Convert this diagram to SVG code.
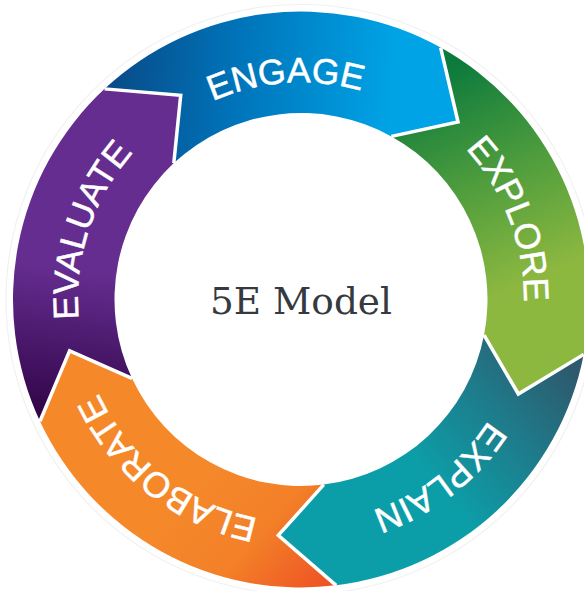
<svg xmlns="http://www.w3.org/2000/svg" width="584" height="591" viewBox="0 0 584 591">
  <style>
    .lbl { font-family: "Liberation Sans", Arial, sans-serif; font-size: 35.5px; fill: #ffffff; stroke: #ffffff; stroke-width: 0.5; }
    .sep { fill: none; stroke: #ffffff; stroke-width: 3.5; stroke-linejoin: miter; }
    .title { font-family: "DejaVu Serif", "Liberation Serif", serif; font-size: 37px; fill: #353a40; }
  </style>
  <defs>
    <linearGradient id="gEngage" gradientUnits="userSpaceOnUse" x1="110" y1="90" x2="390" y2="110">
      <stop offset="0" stop-color="#084b88"/>
      <stop offset="0.45" stop-color="#0074ba"/>
      <stop offset="1" stop-color="#00a3e5"/>
    </linearGradient>
    <linearGradient id="gExplore" gradientUnits="userSpaceOnUse" x1="440" y1="70" x2="535" y2="280">
      <stop offset="0" stop-color="#0b7a3c"/>
      <stop offset="0.5" stop-color="#4d9c3d"/>
      <stop offset="1" stop-color="#8db840"/>
    </linearGradient>
    <linearGradient id="gExplain" gradientUnits="userSpaceOnUse" x1="575" y1="375" x2="440" y2="490">
      <stop offset="0" stop-color="#2d5a6d"/>
      <stop offset="0.5" stop-color="#1d7d8c"/>
      <stop offset="1" stop-color="#0c9ea8"/>
    </linearGradient>
    <linearGradient id="gElaborate" gradientUnits="userSpaceOnUse" x1="200" y1="470" x2="330" y2="585">
      <stop offset="0" stop-color="#f5892a"/>
      <stop offset="0.5" stop-color="#f38028"/>
      <stop offset="1" stop-color="#ee5224"/>
    </linearGradient>
    <linearGradient id="gEvaluate" gradientUnits="userSpaceOnUse" x1="80" y1="270" x2="60" y2="425">
      <stop offset="0" stop-color="#652d90"/>
      <stop offset="1" stop-color="#2e0344"/>
    </linearGradient>
    <path id="ringA" d="M 88.74 344.62 A 217 217 0 0 1 513.26 254.38 A 217 217 0 0 1 88.74 344.62"/>
    <path id="ringB" d="M 82.87 345.86 A 223 223 0 0 1 519.13 253.14 A 223 223 0 0 1 82.87 345.86"/>
  </defs>

  <rect width="584" height="591" fill="#ffffff"/>
  <circle cx="301" cy="299.5" r="295" fill="none" stroke="#f1f1f1" stroke-width="1.2"/>

  <g id="node-engage">
    <path fill="url(#gEngage)" d="M 104.58 88.87 A 288 288 0 0 1 440.63 47.61 L 458.04 122.00 L 391.42 136.38 A 186.5 186.5 0 0 0 173.81 163.10 L 180.71 95.29 Z"/>
    <text class="lbl" text-anchor="middle"><textPath href="#ringA" startOffset="371.2">ENGAGE</textPath></text>
  </g>

  <g id="node-explore">
    <path fill="url(#gExplore)" d="M 440.63 47.61 A 288 288 0 0 1 583.71 354.45 L 518.34 394.00 L 484.07 335.09 A 186.5 186.5 0 0 0 391.42 136.38 L 458.04 122.00 Z"/>
    <text class="lbl" text-anchor="middle"><textPath href="#ringB" startOffset="665.5">EXPLORE</textPath></text>
  </g>

  <g id="node-explain">
    <path fill="url(#gExplain)" d="M 583.71 354.45 A 288 288 0 0 1 336.10 585.35 L 278.28 535.41 L 323.73 484.61 A 186.5 186.5 0 0 0 484.07 335.09 L 518.34 394.00 Z"/>
    <text class="lbl" text-anchor="middle"><textPath href="#ringB" startOffset="949.7">EXPLAIN</textPath></text>
  </g>

  <g id="node-elaborate">
    <path fill="url(#gElaborate)" d="M 336.10 585.35 A 288 288 0 0 1 39.98 421.21 L 69.62 350.80 L 131.97 378.32 A 186.5 186.5 0 0 0 323.73 484.61 L 278.28 535.41 Z"/>
    <text class="lbl" text-anchor="middle"><textPath href="#ringB" startOffset="1245.5">ELABORATE</textPath></text>
  </g>

  <g id="node-evaluate">
    <path fill="url(#gEvaluate)" d="M 39.98 421.21 A 288 288 0 0 1 104.58 88.87 L 180.71 95.29 L 173.81 163.10 A 186.5 186.5 0 0 0 131.97 378.32 L 69.62 350.80 Z"/>
    <text class="lbl" text-anchor="middle"><textPath href="#ringB" startOffset="117">EVALUATE</textPath></text>
  </g>

  <g id="connectors">
    <polyline class="sep" points="440.63,47.61 458.04,122.00 391.42,136.38"/>
    <polyline class="sep" points="583.71,354.45 518.34,394.00 484.07,335.09"/>
    <polyline class="sep" points="336.10,585.35 278.28,535.41 323.73,484.61"/>
    <polyline class="sep" points="39.98,421.21 69.62,350.80 131.97,378.32"/>
    <polyline class="sep" points="104.58,88.87 180.71,95.29 173.81,163.10"/>
  </g>

  <g id="node-center">
    <text class="title" x="301" y="314" text-anchor="middle" textLength="182" lengthAdjust="spacingAndGlyphs">5E Model</text>
  </g>
</svg>
